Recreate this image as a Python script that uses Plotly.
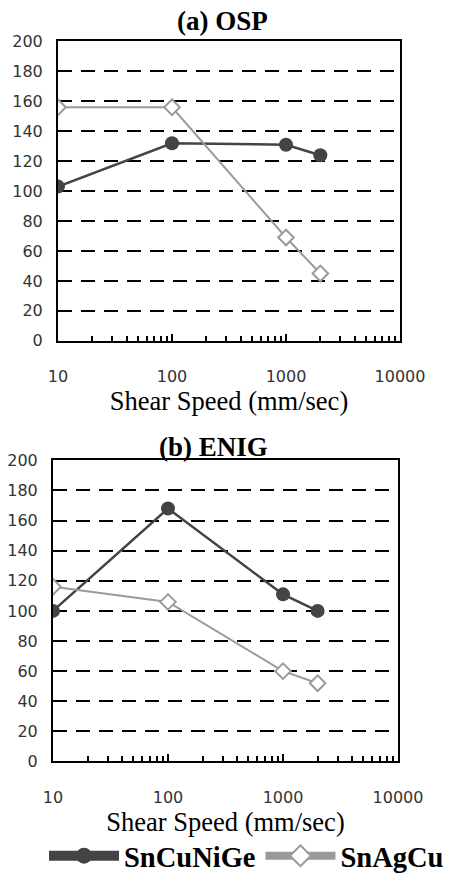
import plotly.graph_objects as go

speeds = [10, 100, 1000, 2000]
osp_sncunige = [103, 132, 131, 124]
osp_snagcu = [156, 156, 69, 45]
enig_sncunige = [100, 168, 111, 100]
enig_snagcu = [116, 106, 60, 52]
series_names = ["SnCuNiGe", "SnAgCu"]
panel_titles = ["(a) OSP", "(b) ENIG"]
x_title = "Shear Speed (mm/sec)"
x_ticks = [10, 100, 1000, 10000]
x_minor_ticks = [m * d for d in (10, 100, 1000) for m in range(2, 10)]
y_ticks = list(range(0, 201, 20))

W, H = 449, 882
DARK = "#444444"
LIGHT = "#9a9a9a"
SERIF = "Liberation Serif"
SANS = "DejaVu Sans"

fig = go.Figure()

def add_panel(yvals_dark, yvals_light, xa, ya):
    fig.add_trace(go.Scatter(
        x=speeds, y=yvals_dark, mode="lines+markers", xaxis=xa, yaxis=ya,
        line=dict(color=DARK, width=2.5),
        marker=dict(symbol="circle", size=14, color=DARK, line=dict(width=0)),
        showlegend=False, name=series_names[0]))
    fig.add_trace(go.Scatter(
        x=speeds, y=yvals_light, mode="lines+markers", xaxis=xa, yaxis=ya,
        line=dict(color=LIGHT, width=2),
        marker=dict(symbol="diamond", size=12, color="white",
                    line=dict(color=LIGHT, width=2)),
        showlegend=False, name=series_names[1]))

add_panel(osp_sncunige, osp_snagcu, "x", "y")
add_panel(enig_sncunige, enig_snagcu, "x2", "y2")

# legend-only entries
fig.add_trace(go.Scatter(
    x=[None], y=[None], mode="lines+markers", name=series_names[0],
    line=dict(color=DARK, width=10),
    marker=dict(symbol="circle", size=18, color=DARK)))
fig.add_trace(go.Scatter(
    x=[None], y=[None], mode="lines+markers", name=series_names[1],
    line=dict(color=LIGHT, width=8),
    marker=dict(symbol="diamond", size=16, color="white",
                line=dict(color=LIGHT, width=2))))

def px_x(a, b):
    return [a / W, b / W]

def px_y(top, bottom):
    return [1 - bottom / H, 1 - top / H]

xcommon = dict(
    type="log", range=[1, 4], tickvals=x_ticks, ticktext=[str(v) for v in x_ticks],
    ticks="inside", ticklen=7, tickwidth=2, tickcolor="black",
    minor=dict(tickvals=x_minor_ticks, ticks="inside", ticklen=5, tickwidth=2,
               tickcolor="black", showgrid=False),
    showline=True, linecolor="black", linewidth=2, mirror=True,
    showgrid=False, zeroline=False, automargin=False,
    tickfont=dict(family=SANS, size=16, color="#333333"),
    ticklabelstandoff=20,
    title=dict(text=x_title, font=dict(family=SERIF, size=26.5, color="black"), standoff=5),
)
ycommon = dict(
    range=[0, 200], tickvals=y_ticks, ticks="",
    showline=True, linecolor="black", linewidth=2, mirror=True,
    showgrid=True, gridcolor="black", gridwidth=2, griddash="14px,9px",
    zeroline=False, automargin=False,
    tickfont=dict(family=SANS, size=16, color="#333333"),
    ticklabelstandoff=10,
)

fig.update_layout(
    width=W, height=H, margin=dict(l=0, r=0, t=0, b=0),
    template="none", paper_bgcolor="white", plot_bgcolor="white",
    font=dict(family=SERIF, color="black"),
    xaxis=dict(domain=px_x(58, 400), anchor="y", **xcommon),
    yaxis=dict(domain=px_y(42, 345.5), anchor="x", **ycommon),
    xaxis2=dict(domain=px_x(53, 398), anchor="y2", **xcommon),
    yaxis2=dict(domain=px_y(466.7, 772), anchor="x2", **ycommon),
    legend=dict(orientation="h", x=44 / W, xanchor="left", y=1 - 868 / H, yanchor="middle",
                font=dict(family=SERIF, size=28.5, color="black", weight="bold"),
                itemwidth=70, bgcolor="rgba(0,0,0,0)"),
    showlegend=True,
    annotations=[
        dict(text="<b>" + panel_titles[0] + "</b>", xref="paper", yref="paper",
             x=222 / W, y=1 - 21 / H, xanchor="center", yanchor="middle", showarrow=False,
             font=dict(family=SERIF, size=27, color="black")),
        dict(text="<b>" + panel_titles[1] + "</b>", xref="paper", yref="paper",
             x=213 / W, y=1 - 453 / H, xanchor="center", yanchor="middle", showarrow=False,
             font=dict(family=SERIF, size=27, color="black")),
    ],
)

fig.write_html("out.html")
